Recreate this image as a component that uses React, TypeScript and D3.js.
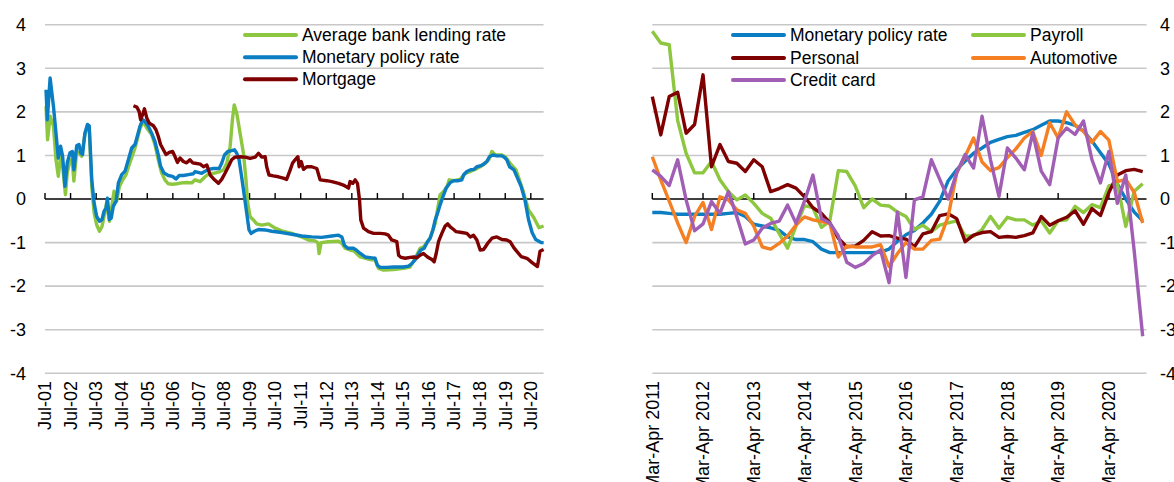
import React from 'react';
import * as d3 from 'd3';

const W = 1174;
const H = 482;

// ---------- Left chart data: [decimal year, value] ----------
const lendingRate: [number, number][] = [
  [2001.54,2.13],[2001.60,1.36],[2001.70,1.90],[2001.83,1.67],[2001.93,0.90],[2002.02,0.52],[2002.11,0.98],[2002.19,0.75],[2002.30,0.10],[2002.37,0.60],[2002.48,0.90],[2002.57,0.83],[2002.63,0.41],[2002.74,1.09],[2002.83,1.06],[2002.93,0.98],[2003.06,1.48],[2003.16,1.67],[2003.23,1.59],[2003.33,0.29],[2003.42,-0.32],[2003.52,-0.59],[2003.63,-0.74],[2003.73,-0.63],[2003.81,-0.40],[2003.91,-0.09],[2004.02,-0.51],[2004.11,-0.17],[2004.20,0.18],[2004.30,-0.05],[2004.41,0.29],[2004.54,0.44],[2004.67,0.56],[2004.82,0.83],[2005.02,1.17],[2005.22,1.63],[2005.35,1.78],[2005.48,1.63],[2005.67,1.48],[2005.80,1.25],[2005.93,0.90],[2006.06,0.60],[2006.19,0.44],[2006.32,0.35],[2006.49,0.34],[2006.65,0.35],[2006.85,0.37],[2007.04,0.38],[2007.24,0.37],[2007.37,0.44],[2007.57,0.40],[2007.76,0.51],[2007.89,0.57],[2008.09,0.59],[2008.35,0.63],[2008.48,0.67],[2008.61,0.82],[2008.74,1.20],[2008.83,1.82],[2008.90,2.16],[2009.00,1.97],[2009.13,1.51],[2009.26,1.05],[2009.35,0.51],[2009.43,-0.10],[2009.52,-0.41],[2009.65,-0.48],[2009.78,-0.57],[2009.98,-0.60],[2010.24,-0.57],[2010.50,-0.67],[2010.76,-0.73],[2011.15,-0.79],[2011.54,-0.87],[2011.80,-0.94],[2012.06,-0.96],[2012.17,-1.00],[2012.22,-1.25],[2012.30,-1.00],[2012.58,-0.98],[2012.98,-0.97],[2013.11,-1.02],[2013.24,-1.13],[2013.43,-1.17],[2013.57,-1.19],[2013.83,-1.33],[2014.22,-1.39],[2014.41,-1.40],[2014.54,-1.59],[2014.74,-1.63],[2015.13,-1.62],[2015.52,-1.59],[2015.78,-1.56],[2015.98,-1.36],[2016.17,-1.13],[2016.30,-1.10],[2016.56,-0.90],[2016.76,-0.56],[2016.85,-0.25],[2016.95,0.09],[2017.09,0.17],[2017.22,0.28],[2017.31,0.44],[2017.48,0.42],[2017.74,0.45],[2017.93,0.59],[2018.13,0.63],[2018.32,0.68],[2018.52,0.74],[2018.72,0.82],[2018.85,0.90],[2018.98,1.09],[2019.11,1.01],[2019.37,1.01],[2019.50,0.97],[2019.69,0.82],[2019.92,0.67],[2020.19,0.20],[2020.41,-0.25],[2020.62,-0.43],[2020.82,-0.66],[2021.0,-0.62]
];

const policyRateLeft: [number, number][] = [
  [2001.54,2.51],[2001.59,1.82],[2001.70,2.78],[2001.83,2.13],[2001.93,1.51],[2002.02,0.94],[2002.11,1.21],[2002.19,0.98],[2002.28,0.29],[2002.37,0.83],[2002.48,1.06],[2002.57,1.09],[2002.63,0.67],[2002.74,1.22],[2002.83,1.25],[2002.90,1.06],[2002.97,1.02],[2003.06,1.51],[2003.16,1.71],[2003.23,1.68],[2003.33,0.44],[2003.42,-0.09],[2003.52,-0.40],[2003.63,-0.51],[2003.73,-0.47],[2003.81,-0.28],[2003.89,-0.21],[2003.94,0.02],[2004.02,-0.47],[2004.09,-0.44],[2004.17,-0.17],[2004.28,-0.05],[2004.37,0.37],[2004.50,0.56],[2004.63,0.64],[2004.76,0.90],[2004.89,1.17],[2005.02,1.25],[2005.11,1.44],[2005.22,1.68],[2005.32,1.82],[2005.41,1.78],[2005.54,1.67],[2005.67,1.51],[2005.80,1.32],[2005.93,1.02],[2006.02,0.75],[2006.15,0.60],[2006.32,0.54],[2006.49,0.52],[2006.62,0.46],[2006.75,0.54],[2006.91,0.54],[2007.11,0.56],[2007.30,0.58],[2007.37,0.63],[2007.63,0.59],[2007.89,0.68],[2008.09,0.70],[2008.31,0.70],[2008.41,0.82],[2008.52,1.01],[2008.65,1.09],[2008.80,1.11],[2008.91,1.13],[2009.00,1.05],[2009.09,0.90],[2009.19,0.51],[2009.30,0.05],[2009.39,-0.33],[2009.48,-0.71],[2009.56,-0.79],[2009.69,-0.74],[2009.85,-0.70],[2010.11,-0.71],[2010.37,-0.74],[2010.76,-0.77],[2011.15,-0.81],[2011.54,-0.85],[2011.93,-0.87],[2012.32,-0.88],[2012.72,-0.85],[2012.98,-0.83],[2013.11,-0.87],[2013.21,-1.06],[2013.34,-1.13],[2013.56,-1.13],[2013.67,-1.17],[2013.83,-1.25],[2014.02,-1.33],[2014.28,-1.35],[2014.41,-1.36],[2014.50,-1.52],[2014.61,-1.57],[2014.87,-1.57],[2015.13,-1.56],[2015.52,-1.56],[2015.72,-1.54],[2015.85,-1.48],[2015.98,-1.39],[2016.11,-1.25],[2016.20,-1.17],[2016.33,-1.13],[2016.46,-0.98],[2016.56,-0.90],[2016.67,-0.71],[2016.76,-0.48],[2016.85,-0.33],[2016.95,-0.14],[2017.06,0.05],[2017.19,0.25],[2017.35,0.38],[2017.48,0.42],[2017.67,0.42],[2017.80,0.44],[2017.87,0.55],[2018.00,0.63],[2018.15,0.67],[2018.28,0.68],[2018.39,0.74],[2018.52,0.76],[2018.65,0.80],[2018.78,0.86],[2018.88,0.97],[2019.02,1.01],[2019.17,0.99],[2019.37,0.99],[2019.46,0.96],[2019.56,0.90],[2019.67,0.74],[2019.84,0.67],[2020.12,0.29],[2020.27,-0.02],[2020.41,-0.47],[2020.55,-0.77],[2020.69,-0.93],[2020.90,-1.0],[2021.0,-1.0]
];

const mortgage: [number, number][] = [
  [2004.96,2.14],[2005.09,2.11],[2005.18,2.01],[2005.24,1.82],[2005.32,1.94],[2005.39,2.07],[2005.48,1.86],[2005.58,1.74],[2005.74,1.68],[2005.84,1.59],[2005.93,1.44],[2006.02,1.25],[2006.13,1.13],[2006.23,1.02],[2006.36,1.07],[2006.49,1.09],[2006.58,0.98],[2006.68,0.84],[2006.78,0.94],[2006.91,0.86],[2007.04,0.83],[2007.17,0.90],[2007.28,0.83],[2007.37,0.82],[2007.57,0.80],[2007.70,0.74],[2007.83,0.78],[2007.96,0.55],[2008.13,0.44],[2008.28,0.36],[2008.41,0.45],[2008.54,0.59],[2008.67,0.74],[2008.80,0.90],[2008.93,0.96],[2009.13,0.97],[2009.33,0.96],[2009.52,0.93],[2009.72,0.96],[2009.85,1.05],[2009.98,0.96],[2010.11,0.97],[2010.17,0.74],[2010.26,0.55],[2010.43,0.53],[2010.63,0.51],[2010.82,0.48],[2010.95,0.45],[2011.09,0.67],[2011.18,0.82],[2011.28,0.90],[2011.39,0.97],[2011.44,0.74],[2011.52,0.86],[2011.61,0.68],[2011.74,0.74],[2011.93,0.74],[2012.13,0.70],[2012.26,0.44],[2012.52,0.42],[2012.72,0.40],[2012.98,0.36],[2013.17,0.32],[2013.37,0.25],[2013.43,0.40],[2013.54,0.36],[2013.63,0.44],[2013.72,0.36],[2013.80,-0.02],[2013.85,-0.48],[2013.96,-0.67],[2014.15,-0.75],[2014.35,-0.79],[2014.61,-0.79],[2014.80,-0.80],[2014.93,-0.83],[2015.06,-0.94],[2015.26,-0.98],[2015.33,-1.29],[2015.42,-1.34],[2015.59,-1.36],[2015.78,-1.34],[2015.94,-1.33],[2016.04,-1.35],[2016.17,-1.29],[2016.30,-1.25],[2016.46,-1.33],[2016.63,-1.39],[2016.72,-1.44],[2016.80,-1.25],[2016.89,-0.98],[2017.02,-0.79],[2017.15,-0.62],[2017.25,-0.57],[2017.35,-0.64],[2017.48,-0.70],[2017.58,-0.75],[2017.80,-0.77],[2018.00,-0.79],[2018.13,-0.87],[2018.26,-0.83],[2018.39,-0.94],[2018.52,-1.17],[2018.65,-1.16],[2018.72,-1.10],[2018.81,-1.02],[2018.98,-0.90],[2019.17,-0.87],[2019.37,-0.93],[2019.56,-0.94],[2019.69,-0.98],[2019.84,-1.12],[2020.12,-1.32],[2020.35,-1.36],[2020.55,-1.46],[2020.76,-1.55],[2020.86,-1.20],[2021.0,-1.16]
];

const leftTickLabels = ['Jul-01','Jul-02','Jul-03','Jul-04','Jul-05','Jul-06','Jul-07','Jul-08','Jul-09','Jul-10','Jul-11','Jul-12','Jul-13','Jul-14','Jul-15','Jul-16','Jul-17','Jul-18','Jul-19','Jul-20'];
const leftTickYears = [2001.5,2002.5,2003.5,2004.5,2005.5,2006.5,2007.5,2008.5,2009.5,2010.5,2011.5,2012.5,2013.5,2014.5,2015.5,2016.5,2017.5,2018.5,2019.5,2020.5];

const yTicks = [4, 3, 2, 1, 0, -1, -2, -3, -4];

// ---------- Right chart data: bimonthly, Mar-Apr 2011 .. Nov-Dec 2020 ----------
const rightTickLabels = ['Mar-Apr 2011','Mar-Apr 2012','Mar-Apr 2013','Mar-Apr 2014','Mar-Apr 2015','Mar-Apr 2016','Mar-Apr 2017','Mar-Apr 2018','Mar-Apr 2019','Mar-Apr 2020'];

const policyRateRight = [
  -0.31,-0.31,-0.33,-0.35,-0.35,-0.35,-0.35,-0.35,-0.35,-0.33,
  -0.31,-0.40,-0.58,-0.62,-0.66,-0.72,-0.87,-0.93,-0.93,-0.98,
  -1.15,-1.23,-1.23,-1.23,-1.23,-1.23,-1.23,-1.22,-1.15,-0.97,
  -0.82,-0.72,-0.55,-0.35,-0.05,0.42,0.67,0.87,1.05,1.17,
  1.30,1.37,1.43,1.46,1.53,1.59,1.69,1.79,1.79,1.75,
  1.69,1.56,1.33,1.06,0.80,0.35,0.00,-0.30,-0.50
];
const payroll = [
  3.85,3.58,3.54,1.80,1.05,0.60,0.60,0.86,0.44,0.17,
  -0.02,0.09,-0.10,-0.33,-0.44,-0.79,-1.13,-0.62,-0.15,-0.20,
  -0.65,-0.50,0.65,0.63,0.30,-0.20,0.00,-0.14,-0.16,-0.30,
  -0.40,-0.70,-0.60,-0.75,-0.60,-0.55,-0.50,-0.85,-0.85,-0.70,
  -0.40,-0.67,-0.42,-0.48,-0.48,-0.60,-0.50,-0.78,-0.50,-0.48,
  -0.17,-0.31,-0.13,-0.20,0.30,0.35,-0.63,0.18,0.35
];
const personal = [
  2.35,1.47,2.35,2.45,1.51,1.71,2.85,0.74,1.25,0.86,
  0.82,0.63,0.90,0.74,0.17,0.24,0.33,0.25,0.05,-0.20,
  -0.33,-0.55,-0.90,-1.10,-1.08,-0.95,-0.75,-0.85,-0.84,-0.90,
  -0.92,-1.10,-0.80,-0.75,-0.38,-0.34,-0.45,-0.98,-0.83,-0.77,
  -0.75,-0.88,-0.86,-0.88,-0.84,-0.78,-0.40,-0.60,-0.50,-0.42,
  -0.27,-0.58,-0.22,-0.38,0.15,0.55,0.65,0.68,0.63
];
const automotive = [
  0.97,0.44,-0.05,-0.55,-1.00,-0.40,-0.08,-0.70,0.05,-0.02,
  -0.25,-0.33,-0.62,-1.10,-1.15,-1.02,-0.85,-0.60,-0.41,-0.48,
  -0.52,-0.56,-1.33,-1.08,-1.10,-1.10,-1.10,-1.05,-1.55,-1.25,
  -1.00,-1.15,-1.15,-0.95,-0.92,-0.40,0.60,0.98,1.40,0.85,
  0.65,0.72,0.95,1.15,1.40,1.55,1.00,1.75,1.40,2.00,
  1.70,1.55,1.30,1.55,1.35,0.40,0.45,0.15,-0.55
];
const creditCard = [
  0.67,0.52,0.31,0.90,-0.02,-0.73,-0.57,-0.06,-0.33,0.17,
  -0.41,-1.03,-0.94,-0.67,-0.56,-0.51,-0.14,-0.56,-0.05,0.55,
  -0.45,-0.55,-0.85,-1.45,-1.57,-1.48,-1.30,-1.17,-1.92,-0.30,
  -1.80,-0.02,0.05,0.90,0.45,0.00,0.60,1.02,0.71,1.90,
  0.90,0.06,1.17,0.94,0.67,1.52,0.64,0.33,1.40,1.63,
  1.48,1.79,0.90,0.37,1.09,-0.10,0.55,-1.20,-3.15
];

// ---------- Styling ----------
const COLORS = {
  green: '#8DC63F',
  blue: '#0B7DC3',
  red: '#7F0000',
  orange: '#F58024',
  purple: '#A15EB5',
};
const FONT = '"Liberation Sans", Arial, Helvetica, sans-serif';
const LW = 3.4;

const yScale = d3.scaleLinear().domain([-4, 4]).range([373.3, 24.7]);

function Gridlines({ x0, x1 }: { x0: number; x1: number }) {
  return (
    <g>
      {yTicks.filter(t => t !== 0).map(t => (
        <line key={t} x1={x0} x2={x1} y1={yScale(t)} y2={yScale(t)} stroke="#C8C8C8" strokeWidth={1.6} />
      ))}
    </g>
  );
}

function LegendItem({ x, y, color, label }: { x: number; y: number; color: string; label: string }) {
  return (
    <g>
      <line x1={x} x2={x + 51} y1={y} y2={y} stroke={color} strokeWidth={4} strokeLinecap="round" />
      <text x={x + 57} y={y} dy="0.35em" fontSize={17.5} fontFamily={FONT} fill="#000">{label}</text>
    </g>
  );
}

export default function App() {
  // Left chart
  const lx = d3.scaleLinear().domain([2001.5, 2021.0]).range([45, 543.6]);
  const leftLine = d3.line<[number, number]>().x(d => lx(d[0])).y(d => yScale(d[1]));

  // Right chart
  const rx = d3.scaleLinear().domain([0, 58.45]).range([652.3, 1146.5]);
  const rightLine = d3.line<number>().x((_, i) => rx(i)).y(d => yScale(d));

  const y0 = yScale(0);

  return (
    <svg width={W} height={H} style={{ position: 'absolute', left: 0, top: 0, background: '#fff' }}>
      {/* ---------- Left chart ---------- */}
      <Gridlines x0={45} x1={543.6} />
      {yTicks.map(t => (
        <text key={t} x={26} y={yScale(t)} dy="0.35em" textAnchor="end" fontSize={18} fontFamily={FONT} fill="#000">{t}</text>
      ))}
      <line x1={45} x2={543.6} y1={y0} y2={y0} stroke="#000" strokeWidth={1.4} />
      {leftTickYears.map((t, i) => (
        <g key={i}>
          <line x1={lx(t)} x2={lx(t)} y1={y0 - 6} y2={y0} stroke="#000" strokeWidth={1.4} />
          <text transform={`translate(${lx(t)},${381}) rotate(-90)`} dy="0.35em" textAnchor="end" fontSize={18} fontFamily={FONT} fill="#000">{leftTickLabels[i]}</text>
        </g>
      ))}
      <path d={leftLine(lendingRate) || ''} fill="none" stroke={COLORS.green} strokeWidth={LW} strokeLinejoin="round" />
      <path d={leftLine(policyRateLeft) || ''} fill="none" stroke={COLORS.blue} strokeWidth={LW} strokeLinejoin="round" />
      <path d={leftLine(mortgage) || ''} fill="none" stroke={COLORS.red} strokeWidth={LW} strokeLinejoin="round" />
      <LegendItem x={245} y={35} color={COLORS.green} label="Average bank lending rate" />
      <LegendItem x={245} y={57.3} color={COLORS.blue} label="Monetary policy rate" />
      <LegendItem x={245} y={79.3} color={COLORS.red} label="Mortgage" />

      {/* ---------- Right chart ---------- */}
      <Gridlines x0={652.3} x1={1146.5} />
      {yTicks.map(t => (
        <text key={t} x={1160} y={yScale(t)} dy="0.35em" textAnchor="start" fontSize={18} fontFamily={FONT} fill="#000">{t}</text>
      ))}
      <line x1={652.3} x2={1146.5} y1={y0} y2={y0} stroke="#000" strokeWidth={1.4} />
      {rightTickLabels.map((lab, k) => (
        <g key={k}>
          <line x1={rx(k * 6)} x2={rx(k * 6)} y1={y0 - 6} y2={y0} stroke="#000" strokeWidth={1.4} />
          <text transform={`translate(${rx(k * 6)},${381}) rotate(-90)`} dy="0.35em" textAnchor="end" fontSize={18} fontFamily={FONT} fill="#000">{lab}</text>
        </g>
      ))}
      <path d={rightLine(policyRateRight) || ''} fill="none" stroke={COLORS.blue} strokeWidth={LW} strokeLinejoin="round" />
      <path d={rightLine(payroll) || ''} fill="none" stroke={COLORS.green} strokeWidth={LW} strokeLinejoin="round" />
      <path d={rightLine(personal) || ''} fill="none" stroke={COLORS.red} strokeWidth={LW} strokeLinejoin="round" />
      <path d={rightLine(automotive) || ''} fill="none" stroke={COLORS.orange} strokeWidth={LW} strokeLinejoin="round" />
      <path d={rightLine(creditCard) || ''} fill="none" stroke={COLORS.purple} strokeWidth={LW} strokeLinejoin="round" />
      <LegendItem x={733} y={35} color={COLORS.blue} label="Monetary policy rate" />
      <LegendItem x={973} y={35} color={COLORS.green} label="Payroll" />
      <LegendItem x={733} y={58} color={COLORS.red} label="Personal" />
      <LegendItem x={973} y={58} color={COLORS.orange} label="Automotive" />
      <LegendItem x={733} y={80} color={COLORS.purple} label="Credit card" />
    </svg>
  );
}
